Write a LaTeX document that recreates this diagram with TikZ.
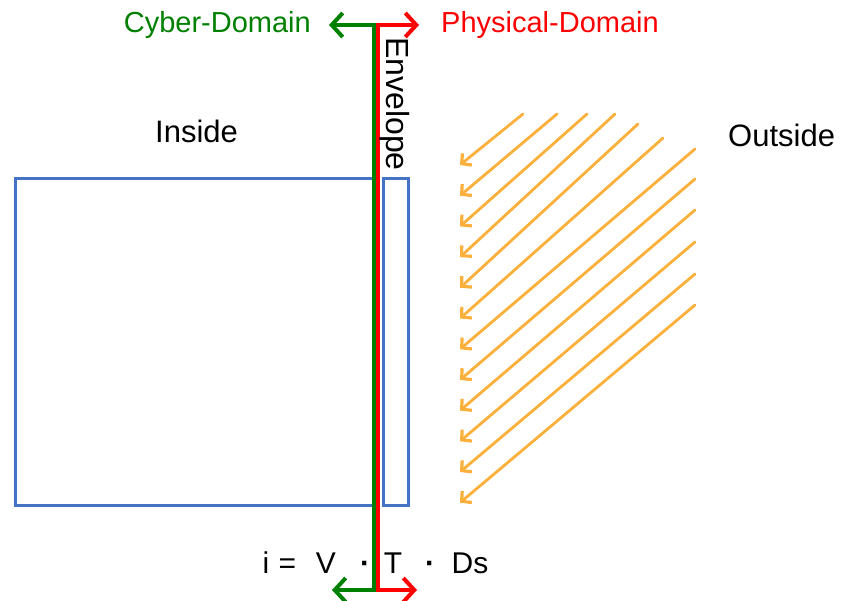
\documentclass[tikz,border=0pt]{standalone}
\usepackage{fontspec}
\setmainfont{Liberation Sans}
\usetikzlibrary{arrows.meta}
\definecolor{cgreen}{RGB}{0,128,0}
\definecolor{cred}{RGB}{255,0,0}
\definecolor{cblue}{RGB}{68,114,196}
\definecolor{corange}{RGB}{251,176,59}
\tikzset{
  lbl/.style={inner sep=0pt, font=\fontsize{31}{31}\selectfont, text=black},
  domlbl/.style={inner sep=0pt, font=\fontsize{29}{29}\selectfont},
  eq/.style={inner sep=0pt, anchor=base, font=\fontsize{30}{30}\selectfont},
  domline/.style={line width=4pt, line join=miter,
    {Straight Barb[length=11pt,width=24pt,line width=4pt]}-{Straight Barb[length=11pt,width=24pt,line width=4pt]}},
  ray/.style={corange, line width=2.8pt, line cap=round,
    -{Straight Barb[length=7pt,width=15pt,line width=3.2pt]}},
  box/.style={draw=cblue, line width=3pt}
}
\begin{document}
\begin{tikzpicture}[x=1pt,y=-1pt]
\useasboundingbox (0,0) rectangle (844,601);
% blue boxes
\draw[box] (15,179) rectangle (376,506);
\draw[box] (383,179) rectangle (408,506);
% domain lines
\coordinate (gtt) at (329,25);
\coordinate (gt) at (374,25);
\coordinate (gb) at (374,590);
\coordinate (gbt) at (332,590);
\coordinate (rtt) at (419,25);
\coordinate (rt) at (378,25);
\coordinate (rb) at (378,590);
\coordinate (rbt) at (417,590);
\draw[domline, cgreen] (gtt) -- (gt) -- (gb) -- (gbt);
\draw[domline, cred] (rtt) -- (rt) -- (rb) -- (rbt);
% labels
\node[domlbl, text=cgreen, anchor=base east] (cyber) at (311,33) {Cyber-Domain};
\node[domlbl, text=cred, anchor=base west] (phys) at (441,33) {Physical-Domain};
\node[lbl, anchor=base west] (inside) at (155,143) {Inside};
\node[lbl, anchor=base west] (outside) at (728,147) {Outside};
\node[lbl, font=\fontsize{32}{32}\selectfont, rotate=-90, anchor=base west] (env) at (386,37) {Envelope};
% equation
\node[eq] (eqi) at (266,573) {i};
\node[eq] (eqeq) at (287.5,573) {=};
\node[eq] (eqv) at (326,573) {V};
\node[eq] (eqd1) at (365,573) {\textbf{·}};
\node[eq] (eqt) at (393,573) {T};
\node[eq] (eqd2) at (430,573) {\textbf{·}};
\node[eq] (eqds) at (470,573) {Ds};
% rays
\foreach \i/\tx/\ty in {0/523/114, 1/557/114, 2/587/114, 3/615/114, 4/638/124, 5/663/138,
  6/695/149, 7/695/179, 8/695/210, 9/695/242, 10/695/274, 11/695/305} {
  \coordinate (rs\i) at (\tx,\ty);
  \coordinate (re\i) at (460,{165+30.7*\i});
  \draw[ray] (rs\i) -- (re\i);
}
\end{tikzpicture}
\end{document}
